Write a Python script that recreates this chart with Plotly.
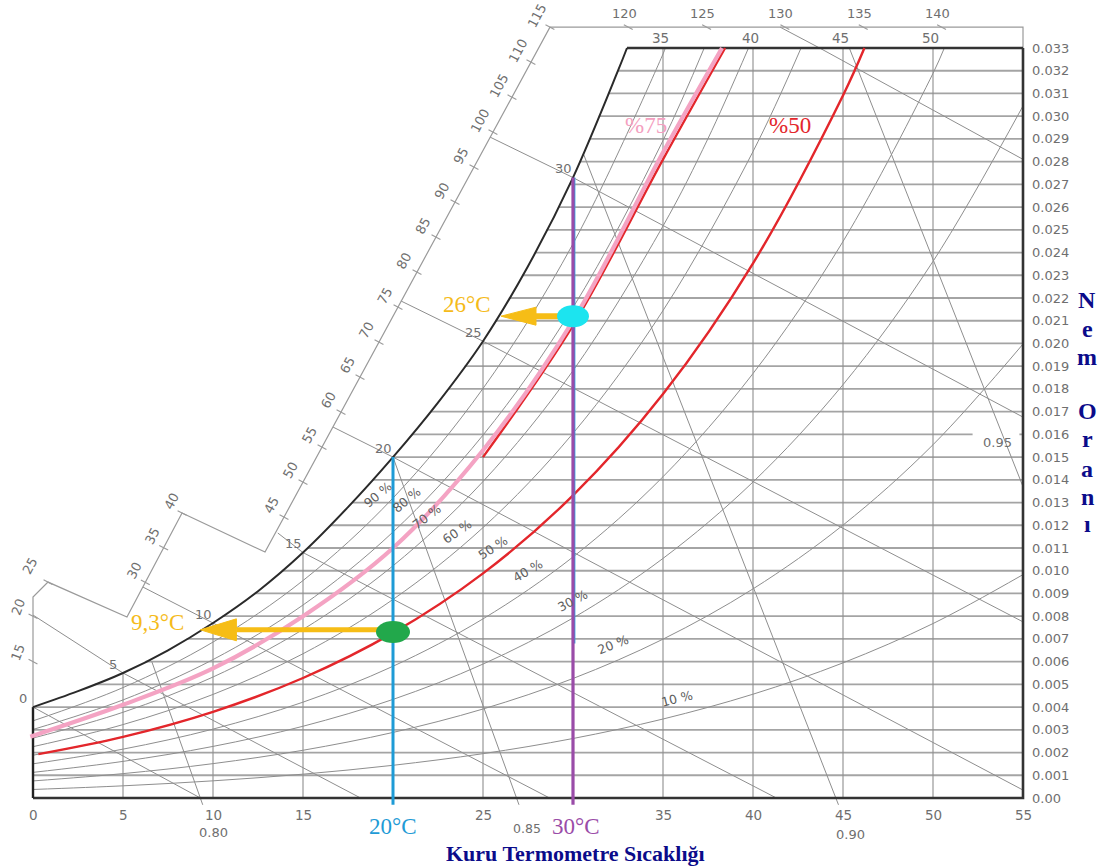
import numpy as np
import plotly.graph_objects as go

# ---------------------------------------------------------------- data
# Dry-bulb temperature ticks (°C) and humidity-ratio ticks (kg/kg dry air)
DRY_BULB_TICKS = [0, 5, 10, 15, 20, 25, 30, 35, 40, 45, 50, 55]
TOP_DRY_BULB_TICKS = [35, 40, 45, 50]
HUMIDITY_TICKS = [k / 1000 for k in range(34)]
HUMIDITY_LABELS = ["0.00"] + ["0.%03d" % k for k in range(1, 34)]

# Saturation curve (100 % RH)
SAT_T = [0, 2.5, 5, 7.5, 10, 12.5, 15, 17.5, 20, 22.5, 25, 27.5, 30, 32.5, 33.0]
SAT_W = [0.0040, 0.0047, 0.0055, 0.0065, 0.0077, 0.0091, 0.0108, 0.0128, 0.0150,
         0.0174, 0.0201, 0.0234, 0.0273, 0.0320, 0.0330]

# Relative-humidity curves of the chart
RH_T = [0, 5, 10, 15, 20, 25, 30, 35, 40, 45, 50, 55]
RH10_W = [0.000375, 0.000536, 0.000755, 0.001049, 0.001439, 0.001951, 0.002618,
          0.003475, 0.004567, 0.005946, 0.007676, 0.009829]
RH20_W = [0.000751, 0.001073, 0.001512, 0.002101, 0.002885, 0.003916, 0.005258,
          0.006989, 0.009201, 0.012007, 0.015544, 0.019974]
RH30_W = [0.001128, 0.001611, 0.002270, 0.003157, 0.004338, 0.005893, 0.007921,
          0.010542, 0.013904, 0.018187, 0.023611, 0.030450]
RH40_T = [0, 5, 10, 15, 20, 25, 30, 35, 40, 45, 50, 50.63]
RH40_W = [0.001504, 0.002150, 0.003031, 0.004217, 0.005797, 0.007882, 0.010606,
          0.014136, 0.018678, 0.024488, 0.031885, 0.0330]
RH50_T = [0, 5, 10, 15, 20, 25, 30, 35, 40, 45, 46.19]
RH50_W = [0.001882, 0.002690, 0.003793, 0.005280, 0.007264, 0.009883, 0.013314,
          0.017771, 0.023524, 0.030914, 0.0330]
RH60_T = [0, 5, 10, 15, 20, 25, 30, 35, 40, 42.67]
RH60_W = [0.002259, 0.003230, 0.004557, 0.006347, 0.008737, 0.011898, 0.016046,
          0.021448, 0.028444, 0.0330]
RH70_T = [0, 5, 10, 15, 20, 25, 30, 35, 37.5, 39.75]
RH70_W = [0.002638, 0.003772, 0.005323, 0.007417, 0.010217, 0.013925, 0.018801,
          0.025167, 0.029016, 0.0330]
RH80_T = [0, 5, 10, 15, 20, 25, 30, 35, 37.29]
RH80_W = [0.003016, 0.004315, 0.006091, 0.008491, 0.011704, 0.015966, 0.021580,
          0.028929, 0.0330]
RH90_T = [0, 5, 10, 15, 20, 25, 30, 35, 35.13]
RH90_W = [0.003395, 0.004858, 0.006860, 0.009568, 0.013198, 0.018019, 0.024384,
          0.032736, 0.0330]
RH_LABELS = [90, 80, 70, 60, 50, 40, 30, 20, 10]

# Highlighted curves: 75 % (red + pink overlay) and 50 % (red)
RED75_T = [25, 30, 35, 38.45]
RED75_W = [0.0150, 0.0208, 0.0281, 0.0330]
PINK75_T = [-0.15, 5, 10, 15, 20, 25, 30, 35, 38.28]
PINK75_W = [0.0027, 0.0041, 0.0057, 0.0080, 0.0110, 0.0153, 0.0210, 0.0284, 0.0330]
RED50_T = [0.3, 5, 10, 15, 20, 25, 30, 35, 40, 45, 46.19]
RED50_W = [0.00193, 0.002690, 0.003793, 0.005280, 0.007264, 0.009883, 0.013314,
           0.017771, 0.023524, 0.030914, 0.0330]

# Wet-bulb lines: start on the enthalpy scale, pass the saturation curve, end on the frame
WB_LABELS = [0, 5, 10, 15, 20, 25, 30, 35]
WB_SCALE_T = [0.0, 0.0, 6.11, 13.6, 16.67, 20.44, 25.39, 41.5]
WB_SCALE_W = [0.0040, 0.00805, 0.00928, 0.01166, 0.01632, 0.02187, 0.02908, 0.03392]
WB_SAT_T = [0, 5, 10, 15, 20, 25, 30, 43.7]
WB_SAT_W = [0.0040, 0.0055, 0.0077, 0.0108, 0.0150, 0.0201, 0.0273, 0.0330]
WB_END_T = [9.3, 18.2, 28.7, 41.3, 55, 55, 55, 55]
WB_END_W = [0.0, 0.0, 0.0, 0.0, 0.00035, 0.00775, 0.01676, 0.0281]

# Specific-volume lines (m³/kg)
VOL_LABELS = ["0.80", "0.85", "0.90", "0.95"]
VOL_TOP_T = [6.6, 20.0, 30.6, 45.35]
VOL_TOP_W = [0.0060, 0.0150, 0.0283, 0.0330]
VOL_BOT_T = [9.43, 27.0, 44.75, 55.0]
VOL_BOT_W = [-0.0003, -0.0003, -0.0003, 0.0137]

# Stepped enthalpy scale (kJ/kg) outside the chart, with its enthalpy at each vertex
SCALE_T = [0.0, 0.0, 0.833, 5.22, 8.28, 12.89, 28.72, 55.0, 55.0]
SCALE_W = [0.0040, 0.00884, 0.00950, 0.00796, 0.01254, 0.01082, 0.03392, 0.03392, 0.0330]
SCALE_H = [10.0, 22.1, 25.0, 25.0, 40.0, 40.0, 115.0, 145.2, 145.2]
ENTH_LABELS = list(range(15, 120, 5)) + [120, 125, 130, 135, 140]

# Marked states and their dew points
STATE_T = [20.0, 30.0]
STATE_W = [0.0073, 0.0212]
DEW_T = [9.3, 26.0]
DEW_W = [0.0074, 0.0212]

# ---------------------------------------------------------------- geometry
W_PX, H_PX = 1107, 868
X_RANGE = [-1.8333, 59.6667]
Y_RANGE = [-0.00308, 0.035112]
PX_T = (X_RANGE[1] - X_RANGE[0]) / W_PX      # °C per pixel
PX_W = (Y_RANGE[1] - Y_RANGE[0]) / H_PX      # kg/kg per pixel
T_MAX, W_MAX = 55.0, 0.033


def t_of(px):
    return X_RANGE[0] + px * PX_T


def w_of(py):
    return Y_RANGE[1] - py * PX_W


GRID = "#a4a4a4"
THIN = "#8e8e8e"
TEXT_GRAY = "#6f6f6f"
FRAME = "#333333"
SERIF = "Liberation Serif"

fig = go.Figure()


def line(xs, ys, color, width, shape="linear"):
    fig.add_trace(go.Scatter(x=xs, y=ys, mode="lines",
                             line=dict(color=color, width=width, shape=shape),
                             hoverinfo="skip", showlegend=False))


def text(x, y, s, size=13.5, color=TEXT_GRAY, family="DejaVu Sans", angle=0,
         dx=0, dy=0, xanchor="center", yanchor="middle"):
    fig.add_annotation(x=x, y=y, text=s, showarrow=False, textangle=angle,
                       font=dict(size=size, color=color, family=family),
                       xshift=dx, yshift=dy, xanchor=xanchor, yanchor=yanchor)


def sat_w(t):
    return float(np.interp(t, SAT_T, SAT_W))


# ---------------------------------------------------------------- grid
hx, hy = [], []
for w in HUMIDITY_TICKS[1:-1]:
    t0 = float(np.interp(w, SAT_W, SAT_T)) if w > SAT_W[0] else 0.0
    pieces = [(t0, T_MAX)]
    if abs(w - 0.016) < 1e-9:
        pieces = [(t0, 52.2), (54.8, T_MAX)]
    for a, b in pieces:
        hx += [a, b, None]
        hy += [w, w, None]
line(hx, hy, GRID, 1.8)

vx, vy = [], []
for t in DRY_BULB_TICKS[1:-1]:
    top = min(sat_w(t), W_MAX) if t <= SAT_T[-1] else W_MAX
    vx += [t, t, None]
    vy += [0, top, None]
line(vx, vy, THIN, 1.1)

# relative humidity curves
for ts, ws in [(RH_T, RH10_W), (RH_T, RH20_W), (RH_T, RH30_W), (RH40_T, RH40_W),
               (RH50_T, RH50_W), (RH60_T, RH60_W), (RH70_T, RH70_W),
               (RH80_T, RH80_W), (RH90_T, RH90_W)]:
    line(ts, ws, THIN, 1.0, "spline")

# wet-bulb lines
bx, by = [], []
for i in range(len(WB_LABELS)):
    bx += [WB_SCALE_T[i], WB_SAT_T[i], WB_END_T[i], None]
    by += [WB_SCALE_W[i], WB_SAT_W[i], WB_END_W[i], None]
line(bx, by, THIN, 1.0)

# specific volume lines
sx, sy = [], []
for i in range(len(VOL_LABELS)):
    sx += [VOL_TOP_T[i], VOL_BOT_T[i], None]
    sy += [VOL_TOP_W[i], VOL_BOT_W[i], None]
line(sx, sy, THIN, 1.0)

# enthalpy scale
line(SCALE_T, SCALE_W, "#9a9a9a", 1.2)


def locate(h):
    for i in range(len(SCALE_H) - 1):
        h0, h1 = SCALE_H[i], SCALE_H[i + 1]
        if h1 > h0 and h0 <= h <= h1:
            f = (h - h0) / (h1 - h0)
            return (SCALE_T[i] + f * (SCALE_T[i + 1] - SCALE_T[i]),
                    SCALE_W[i] + f * (SCALE_W[i + 1] - SCALE_W[i]), i)
    return None


# label offset (px right, px down) and angle for each scale segment
SEG_STYLE = {0: (-15, -9, -70), 1: (-18, -17, -62), 3: (-11, -12, -62),
             5: (-13, -12, -62), 6: (-4, -14, 0)}
tx, ty = [], []
ux, uy = 0.888, 0.459   # tick direction on screen (parallel to wet-bulb lines)
for h in ENTH_LABELS:
    t, w, seg = locate(h)
    L = 5
    tx += [t - ux * L * PX_T, t + ux * L * PX_T, None]
    ty += [w + uy * L * PX_W, w - uy * L * PX_W, None]
    dxp, dyp, ang = SEG_STYLE[seg]
    text(t, w, str(h), size=13, angle=ang, dx=dxp, dy=-dyp)
line(tx, ty, "#9a9a9a", 1.1)

# ---------------------------------------------------------------- frame & saturation
line([0, T_MAX, T_MAX], [0, 0, W_MAX], FRAME, 2.6)
line([SAT_T[-1], T_MAX], [W_MAX, W_MAX], FRAME, 2.6)
line([0, 0], [0, SAT_W[0]], "#222222", 2.4)
line(SAT_T, SAT_W, "#2a2a2a", 2.0, "spline")

# ---------------------------------------------------------------- chart labels
for t in DRY_BULB_TICKS:
    if t in STATE_T:
        continue   # these positions carry the coloured temperature labels
    text(t, 0, str(t), dy=-17)
for t in TOP_DRY_BULB_TICKS:
    text(t, W_MAX, str(t), dx=-3, dy=10)
for w, lab in zip(HUMIDITY_TICKS, HUMIDITY_LABELS):
    text(T_MAX, w, lab, dx=7, xanchor="left", size=13)

for i, lab in enumerate(WB_LABELS[:-1]):
    text(WB_SAT_T[i], WB_SAT_W[i], str(lab), size=13, dx=-10, dy=9)

vol_shift = [(11, -28), (8, -24), (12, -30), (-26, 44)]
vol_size = [13, 12.5, 13, 13]
for i, lab in enumerate(VOL_LABELS):
    text(VOL_BOT_T[i], VOL_BOT_W[i], lab, size=vol_size[i],
         dx=vol_shift[i][0], dy=vol_shift[i][1])

rh_curves = {90: (RH90_T, RH90_W), 80: (RH80_T, RH80_W), 70: (RH70_T, RH70_W),
             60: (RH60_T, RH60_W), 50: (RH50_T, RH50_W), 40: (RH40_T, RH40_W),
             30: (RH_T, RH30_W), 20: (RH_T, RH20_W), 10: (RH_T, RH10_W)}
rh_label_t = {90: 19.17, 80: 20.78, 70: 21.89, 60: 23.56, 50: 25.56,
              40: 27.5, 30: 30.0, 20: 32.22, 10: 35.78}
rh_label_angle = {90: -40, 80: -39, 70: -37, 60: -35, 50: -33, 40: -30,
                  30: -28, 20: -21, 10: -14}
for rh in RH_LABELS:
    ts, ws = rh_curves[rh]
    t = rh_label_t[rh]
    text(t, float(np.interp(t, ts, ws)), "%d %%" % rh, size=12.5,
         color="#5e5e5e", angle=rh_label_angle[rh], dy=17)

# ---------------------------------------------------------------- highlighted process
line(RED75_T, RED75_W, "#e3262b", 2.4, "spline")
line(PINK75_T, PINK75_W, "#f4a3c3", 4.2, "spline")
line(RED50_T, RED50_W, "#e3262b", 2.4, "spline")

# dry-bulb markers at 20 °C and 30 °C
line([STATE_T[0], STATE_T[0]], [-0.0003, sat_w(STATE_T[0])], "#1e9bd6", 3.0)
line([STATE_T[1] + 0.09, STATE_T[1] + 0.09], [0.0068, sat_w(STATE_T[1])], "#2aa0e0", 1.5)
line([STATE_T[1], STATE_T[1]], [-0.0003, sat_w(STATE_T[1])], "#9a4ca8", 3.2)

# arrows from each state to its dew point
YELLOW = "#f6bd16"
head_len = [36, 35]
head_half = [11, 9]
shaft_w = [5, 6]
for i in range(2):
    base = DEW_T[i] + head_len[i] * PX_T
    line([STATE_T[i], base], [DEW_W[i], DEW_W[i]], YELLOW, shaft_w[i])
    fig.add_trace(go.Scatter(
        x=[DEW_T[i], base, base, DEW_T[i]],
        y=[DEW_W[i], DEW_W[i] + head_half[i] * PX_W, DEW_W[i] - head_half[i] * PX_W, DEW_W[i]],
        mode="lines", fill="toself", fillcolor=YELLOW, line=dict(color=YELLOW, width=1),
        hoverinfo="skip", showlegend=False))

# state points
for t, w, col, rx, ry in [(STATE_T[0], STATE_W[0], "#22a84b", 17, 11),
                          (STATE_T[1], STATE_W[1], "#1ce4ef", 16, 11)]:
    fig.add_shape(type="circle", xref="x", yref="y", xsizemode="pixel", ysizemode="pixel",
                  xanchor=t, yanchor=w, x0=-rx, x1=rx, y0=-ry, y1=ry,
                  fillcolor=col, line=dict(width=0))

# annotations of the process
text(DEW_T[0], DEW_W[0], "9,3°C", size=23, color="#f5bb1a", family=SERIF, dx=-43, dy=7)
text(DEW_T[1], DEW_W[1], "26°C", size=23, color="#f5bb1a", family=SERIF, dx=-34, dy=12)
text(t_of(646), w_of(125), "%75", size=23, color="#f4a0c0", family=SERIF)
text(t_of(790), w_of(125), "%50", size=23, color="#e3262b", family=SERIF)
text(STATE_T[0], 0, "20°C", size=23, color="#1e9bd6", family=SERIF, dy=-28)
text(STATE_T[1] + 0.15, 0, "30°C", size=23, color="#9a4ca8", family=SERIF, dy=-28)
text(t_of(575), w_of(853), "<b>Kuru Termometre Sıcaklığı</b>", size=22,
     color="#0b0b8a", family=SERIF)

# vertical axis title, one letter per line
for ch, py in zip("NemOranı", [300, 329, 357, 411, 439, 469, 497, 524]):
    text(t_of(1087), w_of(py), "<b>%s</b>" % ch, size=24, color="#0b0b8a", family=SERIF)

# ---------------------------------------------------------------- layout
fig.update_layout(
    width=W_PX, height=H_PX, autosize=False,
    margin=dict(l=0, r=0, t=0, b=0, pad=0),
    paper_bgcolor="white", plot_bgcolor="white",
    xaxis=dict(range=X_RANGE, visible=False, fixedrange=True),
    yaxis=dict(range=Y_RANGE, visible=False, fixedrange=True),
    showlegend=False,
)

fig.write_html("out.html")
